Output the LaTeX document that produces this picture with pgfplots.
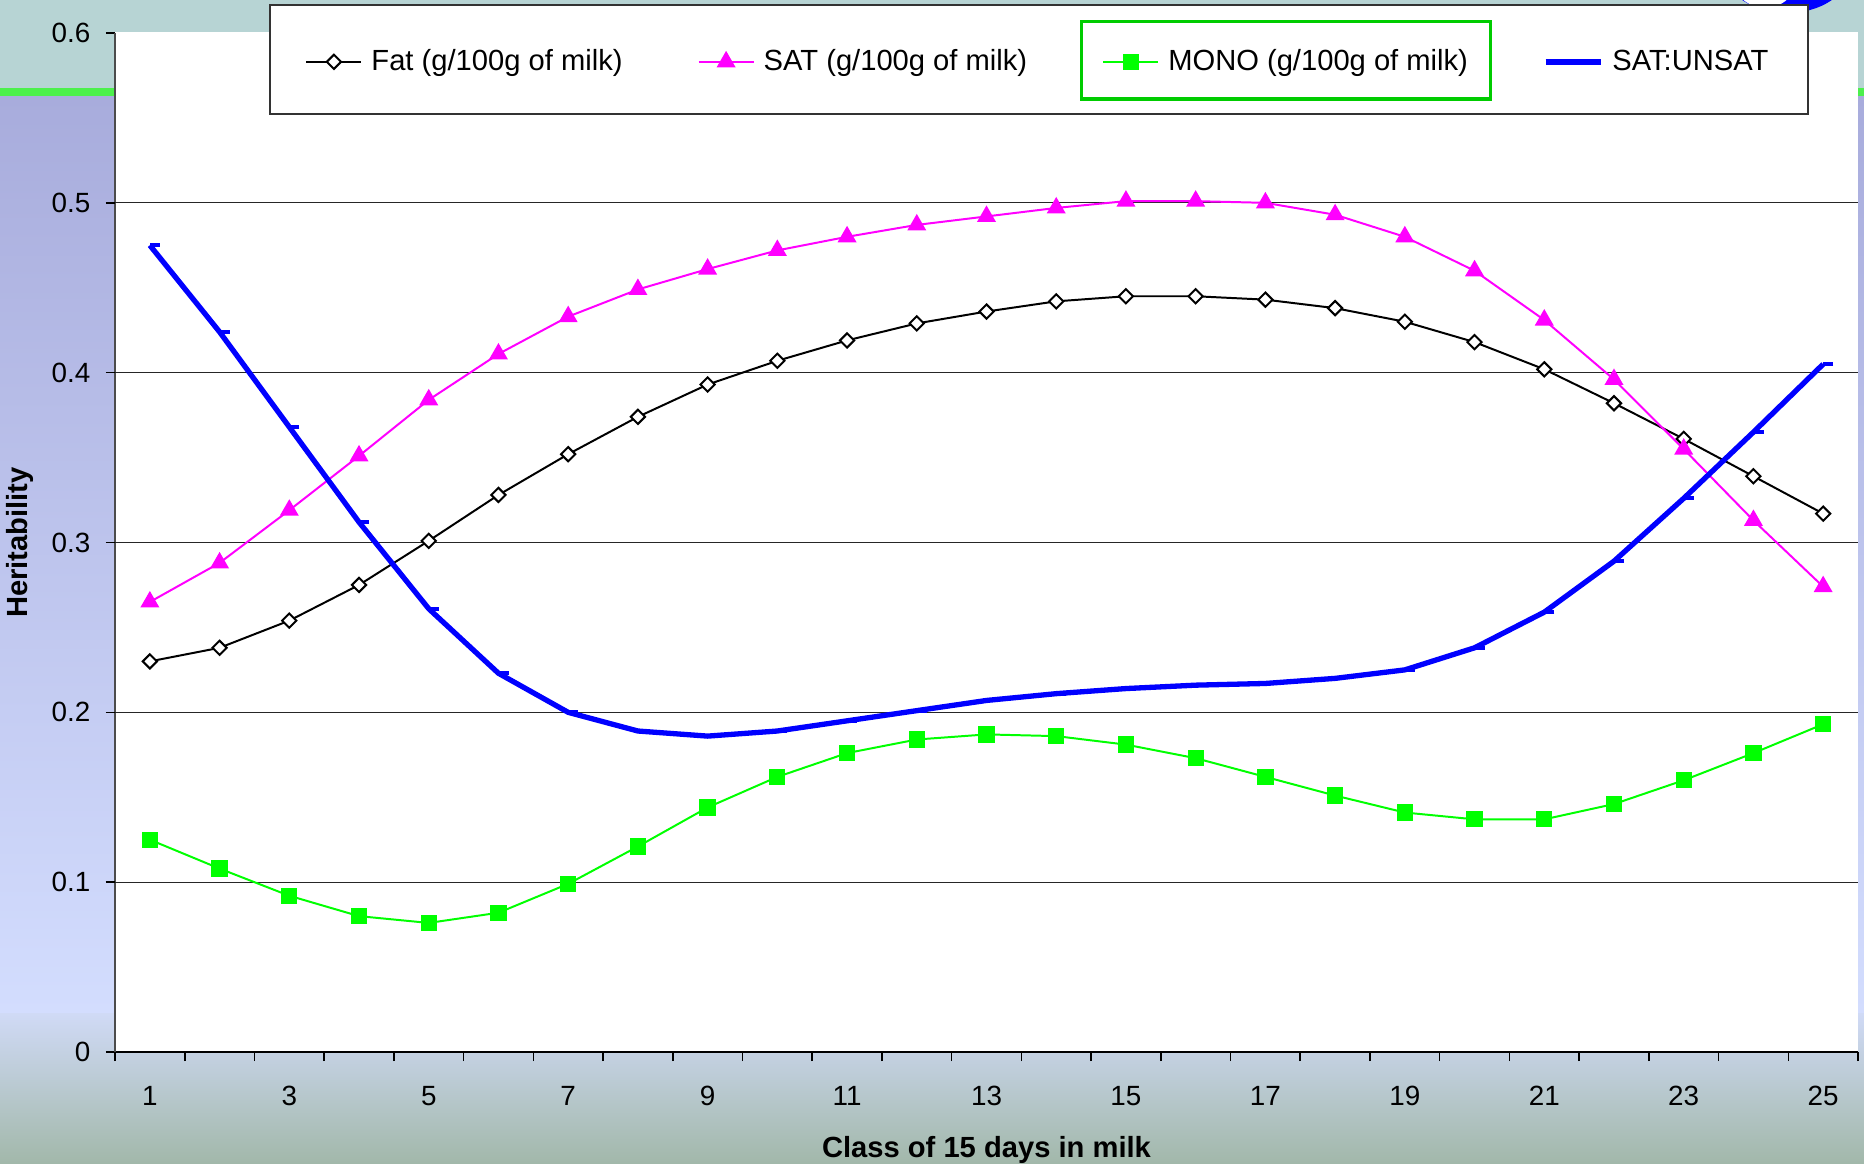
\documentclass[border=0pt]{standalone}
\usepackage{pgfplots}
\pgfplotsset{compat=1.18}
\usepackage{fontspec}
\setmainfont{Liberation Sans}
\definecolor{bgteal}{HTML}{B7D4D4}
\definecolor{bgline}{HTML}{4CF04C}
\definecolor{bglav}{HTML}{A8ACDC}
\definecolor{bglight}{HTML}{D3DDFE}
\definecolor{bgtopbot}{HTML}{D0DAF6}
\definecolor{bggreen}{HTML}{A2B8AA}
\definecolor{sblue}{HTML}{0000FF}
\definecolor{smag}{HTML}{FF00FF}
\definecolor{sgreen}{HTML}{00FF00}
\definecolor{boxgreen}{HTML}{00CC00}
\begin{document}
\begin{tikzpicture}
\begin{scope}[x=0.377358pt,y=0.377358pt]
\begin{scope}
\clip (0,0) rectangle (1864,1163);
\shade[top color=bgtopbot, bottom color=bggreen] (0,0) rectangle (1864,150);
\shade[top color=bglav, bottom color=bglight] (0,150) rectangle (1864,1067);
\fill[bgline] (0,1067) rectangle (1864,1075);
\fill[bgteal] (0,1075) rectangle (1864,1163);
\fill[sblue] (1787,1192) ellipse (62 and 42);
\fill[white] (1765,1195) ellipse (36 and 40);
\fill[white] (115,111) rectangle (1858,1131);
\filldraw[fill=white, draw=black!80, line width=0.5pt] (270,1049) rectangle (1808,1158);
\draw[boxgreen, line width=1.3pt] (1081.5,1064) rectangle (1490.5,1141.5);
\end{scope}
\end{scope}
\begin{axis}[
  at={(43.396pt,41.887pt)}, anchor=south west,
  scale only axis, width=657.74pt, height=384.53pt,
  xmin=0.5, xmax=25.5, ymin=0, ymax=0.6,
  axis x line*=bottom, axis y line*=left,
  axis line style={-},
  x axis line style={black, line width=0.7pt},
  y axis line style={black!70, line width=0.7pt},
  tick align=outside,
  tick pos=left,
  xtick={1,3,...,25},
  major x tick style={draw=none},
  minor xtick={0.5,1.5,...,25.5},
  minor x tick style={black, line width=0.6pt},
  minor tick length=3.4pt,
  major tick length=3.4pt,
  ytick={0,0.1,0.2,0.3,0.4,0.5,0.6},
  major y tick style={black, line width=0.6pt},
  extra y ticks={0.1,0.2,0.3,0.4,0.5},
  extra y tick labels={},
  extra y tick style={grid=major},
  major grid style={black!85, line width=0.45pt},
  /pgf/number format/assume math mode=true,
  y tick label style={/pgf/number format/fixed, /pgf/number format/precision=1},
  tick label style={font=\fontsize{10.5}{12}\selectfont},
  xticklabel style={yshift=-6pt},
  yticklabel style={xshift=-2.4pt},
  label style={font=\bfseries\fontsize{11}{13}\selectfont},
  xlabel={Class of 15 days in milk},
  ylabel={Heritability},
  xlabel style={at={(axis description cs:0.5,-0.0966)}, anchor=center},
  ylabel style={at={(axis description cs:-0.0545,0.5)}, anchor=center},
  legend columns=4,
  legend image code/.code={\draw[mark repeat=2,mark phase=2,#1] plot coordinates {(0pt,0pt) (10.4pt,0pt) (20.8pt,0pt)};},
  legend style={at={(0.1092,0.9717)}, anchor=west, draw=none, fill=none,
    inner sep=0pt, outer sep=0pt, font=\fontsize{11}{13}\selectfont,
    nodes={inner sep=0pt},
    /tikz/every odd column/.append style={column sep=3.4pt},
    /tikz/every even column/.append style={column sep=28.3pt}},
]
\addplot[black, line width=0.75pt, mark=square*, mark size=1.9pt, mark options={rotate=45, fill=white, draw=black, line width=0.75pt}] coordinates {
(1,0.230) (2,0.238) (3,0.254) (4,0.275) (5,0.301) (6,0.328) (7,0.352) (8,0.374) (9,0.393) (10,0.407) (11,0.419) (12,0.429) (13,0.436) (14,0.442) (15,0.445) (16,0.445) (17,0.443) (18,0.438) (19,0.430) (20,0.418) (21,0.402) (22,0.382) (23,0.361) (24,0.339) (25,0.317)};
\addlegendentry{Fat (g/100g of milk)}
\addplot[smag, line width=0.75pt, mark=triangle*, mark size=3.4pt, mark options={fill=smag, draw=smag}] coordinates {
(1,0.265) (2,0.288) (3,0.319) (4,0.351) (5,0.384) (6,0.411) (7,0.433) (8,0.449) (9,0.461) (10,0.472) (11,0.480) (12,0.487) (13,0.492) (14,0.497) (15,0.501) (16,0.501) (17,0.500) (18,0.493) (19,0.480) (20,0.460) (21,0.431) (22,0.396) (23,0.355) (24,0.313) (25,0.274)};
\addlegendentry{SAT (g/100g of milk)}
\addplot[sgreen, line width=0.75pt, mark=square*, mark size=2.7pt, mark options={fill=sgreen, draw=sgreen}] coordinates {
(1,0.125) (2,0.108) (3,0.092) (4,0.080) (5,0.076) (6,0.082) (7,0.099) (8,0.121) (9,0.144) (10,0.162) (11,0.176) (12,0.184) (13,0.187) (14,0.186) (15,0.181) (16,0.173) (17,0.162) (18,0.151) (19,0.141) (20,0.137) (21,0.137) (22,0.146) (23,0.160) (24,0.176) (25,0.193)};
\addlegendentry{MONO (g/100g of milk)}
\addplot[sblue, line width=2pt, mark=-, mark size=1.9pt, mark options={xshift=1.9pt, line width=1.5pt}] coordinates {
(1,0.475) (2,0.424) (3,0.368) (4,0.312) (5,0.261) (6,0.223) (7,0.200) (8,0.189) (9,0.186) (10,0.189) (11,0.195) (12,0.201) (13,0.207) (14,0.211) (15,0.214) (16,0.216) (17,0.217) (18,0.220) (19,0.225) (20,0.238) (21,0.259) (22,0.289) (23,0.326) (24,0.365) (25,0.405)};
\addlegendentry{SAT:UNSAT}
\end{axis}
\pgfresetboundingbox
\path[use as bounding box] (0pt,0pt) rectangle (703.396pt,438.868pt);
\end{tikzpicture}
\end{document}
